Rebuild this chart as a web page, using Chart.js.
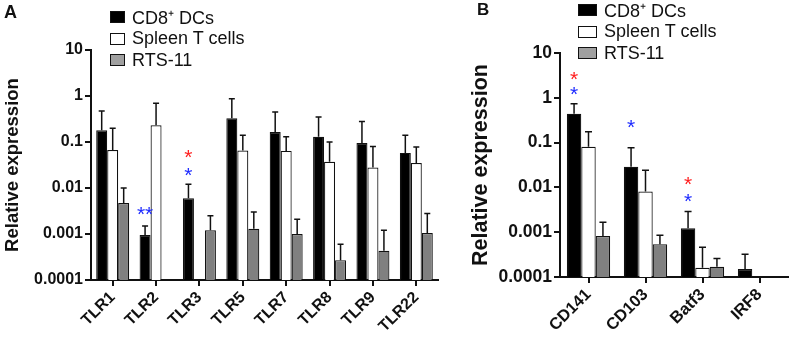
<!DOCTYPE html>
<html>
<head>
<meta charset="utf-8">
<script src="https://cdn.jsdelivr.net/npm/chart.js@4.4.0/dist/chart.umd.min.js"></script>
<style>
body { margin: 0; background: #fff; font-family: "Liberation Sans", Arial, sans-serif; }
#wrap { position: relative; width: 793px; height: 341px; overflow: hidden; }
canvas { position: absolute; top: 0; }
.letter { position: absolute; font-weight: bold; color: #111; }
.legend { position: absolute; font-size: 18px; color: #111; }
.legend .row { position: absolute; left: 0; white-space: nowrap; display: flex; align-items: center; height: 22px; }
.legend .box { display: inline-block; box-sizing: border-box; border: 1.5px solid #111; }
</style>
</head>
<body>
<div id="wrap">
  <canvas id="chartA" width="460" height="341" style="left:0"></canvas>
  <canvas id="chartB" width="333" height="341" style="left:460px"></canvas>
  <div class="letter" style="left:4px;top:2px;font-size:18px">A</div>
  <div class="letter" style="left:477px;top:0px;font-size:17px">B</div>
  <div class="legend" id="legA" style="left:110px;top:6px"></div>
  <div class="legend" id="legB" style="left:578px;top:-1px"></div>
</div>
<script>
// series
const seriesNames = ['CD8⁺ DCs', 'Spleen T cells', 'RTS-11'];
const seriesColors = ['#000000', '#ffffff', '#808080'];

// y axis (log)
const yTicks = [10, 1, 0.1, 0.01, 0.001, 0.0001];
const yTickLabels = ['10', '1', '0.1', '0.01', '0.001', '0.0001'];

// panel A
const catsA = ['TLR1', 'TLR2', 'TLR3', 'TLR5', 'TLR7', 'TLR8', 'TLR9', 'TLR22'];
const cd8A = [0.18, 0.00095, 0.006, 0.33, 0.165, 0.13, 0.095, 0.058];
const cd8ErrA = [0.47, 0.0015, 0.012, 0.87, 0.45, 0.35, 0.28, 0.14];
const spleenA = [0.067, 0.23, null, 0.065, 0.064, 0.037, 0.028, 0.035];
const spleenErrA = [0.2, 0.7, null, 0.14, 0.13, 0.1, 0.08, 0.078];
const rtsA = [0.0047, null, 0.0012, 0.0013, 0.001, 0.00027, 0.00043, 0.00105];
const rtsErrA = [0.01, null, 0.0025, 0.003, 0.0021, 0.0006, 0.0012, 0.0028];
// [category, series, text, colour, y value]
const starsA = [
  [1, 0, '**', '#1f2cff', 0.0035],
  [2, 0, '*', '#ff2020', 0.058],
  [2, 0, '*', '#1f2cff', 0.0246]
];

// panel B
const catsB = ['CD141', 'CD103', 'Batf3', 'IRF8'];
const cd8B = [0.44, 0.029, 0.00123, 0.00015];
const cd8ErrB = [0.74, 0.077, 0.0029, 0.00032];
const spleenB = [0.081, 0.0081, 0.00016, null];
const spleenErrB = [0.175, 0.024, 0.00046, null];
const rtsB = [0.00082, 0.00054, 0.00017, null];
const rtsErrB = [0.00167, 0.00086, 0.00026, null];
const starsB = [
  [0, 0, '*', '#ff2020', 3.4],
  [0, 0, '*', '#1f2cff', 1.5],
  [1, 0, '*', '#1f2cff', 0.28],
  [2, 0, '*', '#ff2020', 0.015],
  [2, 0, '*', '#1f2cff', 0.0063]
];

const FONT = '"Liberation Sans", Arial, sans-serif';

const errorBarPlugin = {
  id: 'errorBars',
  afterDatasetsDraw(chart, args, opts) {
    const ctx = chart.ctx;
    const y = chart.scales.y;
    ctx.save();
    ctx.strokeStyle = '#111';
    ctx.lineWidth = 1.5;
    chart.data.datasets.forEach((ds, i) => {
      const meta = chart.getDatasetMeta(i);
      meta.data.forEach((el, j) => {
        const err = ds.errors[j];
        if (err == null || ds.data[j] == null) return;
        const yTop = y.getPixelForValue(err);
        ctx.beginPath();
        ctx.moveTo(el.x, el.y);
        ctx.lineTo(el.x, yTop);
        ctx.moveTo(el.x - opts.cap, yTop);
        ctx.lineTo(el.x + opts.cap, yTop);
        ctx.stroke();
      });
    });
    ctx.restore();
  }
};

const starPlugin = {
  id: 'stars',
  afterDatasetsDraw(chart, args, opts) {
    const ctx = chart.ctx;
    ctx.save();
    ctx.font = opts.size + 'px ' + FONT;
    ctx.textAlign = 'center';
    ctx.textBaseline = 'alphabetic';
    opts.list.forEach(s => {
      const el = chart.getDatasetMeta(s[1]).data[s[0]];
      const yy = chart.scales.y.getPixelForValue(s[4]);
      ctx.fillStyle = s[3];
      ctx.fillText(s[2], el.x, yy + opts.size * 0.55);
    });
    ctx.restore();
  }
};

function makeChart(id, cats, vals, errs, stars, cfg) {
  const datasets = vals.map((v, i) => ({
    label: seriesNames[i],
    data: v,
    errors: errs[i],
    backgroundColor: seriesColors[i],
    borderColor: '#111',
    borderWidth: 1.2,
    categoryPercentage: 0.76,
    barPercentage: 1
  }));
  return new Chart(document.getElementById(id), {
    type: 'bar',
    data: { labels: cats, datasets: datasets },
    options: {
      animation: false,
      responsive: false,
      layout: { padding: cfg.padding },
      plugins: {
        legend: { display: false },
        tooltip: { enabled: false },
        errorBars: { cap: cfg.cap },
        stars: { list: stars, size: cfg.starSize }
      },
      scales: {
        x: {
          type: 'category',
          offset: true,
          grid: { display: true, drawOnChartArea: false, drawTicks: true, tickLength: 6, color: '#111', lineWidth: 2, offset: false },
          border: { display: true, color: '#111', width: 2 },
          ticks: {
            color: '#111',
            autoSkip: false,
            maxRotation: 45,
            minRotation: 45,
            padding: 2,
            font: { family: FONT, size: cfg.xFont, weight: 'bold' }
          },
          afterFit: s => { s.height = cfg.xHeight; }
        },
        y: {
          type: 'logarithmic',
          min: 0.0001,
          max: 10,
          afterBuildTicks: s => { s.ticks = yTicks.map(v => ({ value: v, major: true })); },
          grid: { display: true, drawOnChartArea: false, drawTicks: true, tickLength: 6, color: '#111', lineWidth: 2 },
          border: { display: true, color: '#111', width: 2 },
          ticks: {
            color: '#111',
            padding: 2,
            font: { family: FONT, size: cfg.yFont, weight: 'bold' },
            callback: v => yTickLabels[yTicks.indexOf(v)]
          },
          title: {
            display: true,
            text: 'Relative expression',
            color: '#111',
            padding: { top: cfg.titlePad, bottom: 0 },
            font: { family: FONT, size: cfg.titleFont, weight: 'bold' }
          },
          afterFit: s => { s.width = cfg.yWidth; }
        }
      }
    },
    plugins: [errorBarPlugin, starPlugin]
  });
}

makeChart('chartA', catsA, [cd8A, spleenA, rtsA], [cd8ErrA, spleenErrA, rtsErrA], starsA, {
  padding: { top: 50, right: 22, bottom: 0, left: 0 },
  yWidth: 91, xHeight: 61, cap: 3, starSize: 21,
  xFont: 16, yFont: 16, titleFont: 18.5, titlePad: 2
});
makeChart('chartB', catsB, [cd8B, spleenB, rtsB], [cd8ErrB, spleenErrB, rtsErrB], starsB, {
  padding: { top: 53, right: 5, bottom: 0, left: 0 },
  yWidth: 100, xHeight: 64, cap: 3.5, starSize: 21,
  xFont: 16.5, yFont: 17.5, titleFont: 21.5, titlePad: 8
});

function buildLegend(id, boxW) {
  const el = document.getElementById(id);
  seriesNames.forEach((name, i) => {
    const row = document.createElement('div');
    row.className = 'row';
    row.style.top = (i * 21.5) + 'px';
    const box = document.createElement('span');
    box.className = 'box';
    box.style.width = boxW + 'px';
    box.style.height = '12px';
    box.style.marginRight = '7px';
    box.style.background = i === 2 ? '#a0a0a0' : seriesColors[i];
    row.appendChild(box);
    row.appendChild(document.createTextNode(name));
    el.appendChild(row);
  });
}
buildLegend('legA', 15);
buildLegend('legB', 19);
</script>
</body>
</html>
